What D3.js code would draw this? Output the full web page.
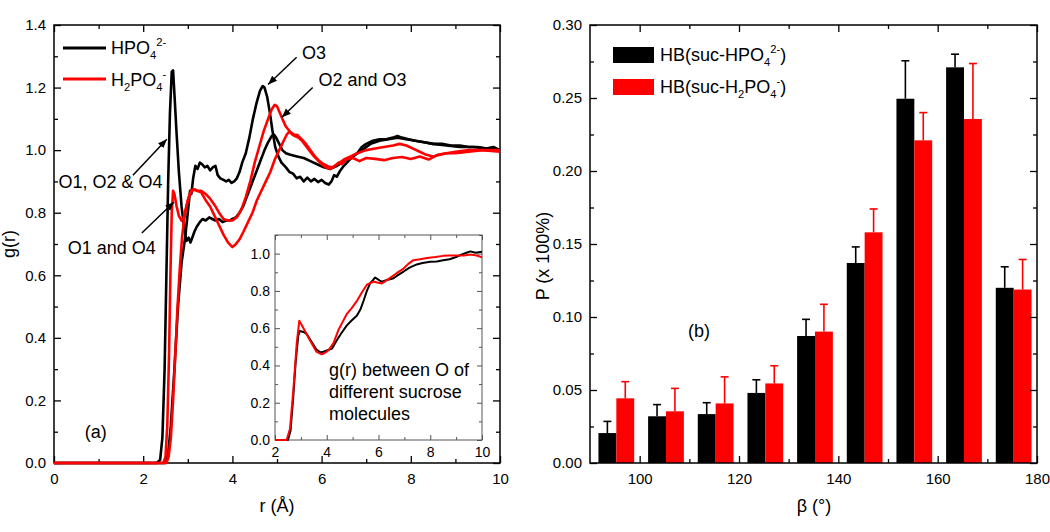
<!DOCTYPE html>
<html>
<head>
<meta charset="utf-8">
<script src="https://cdn.jsdelivr.net/npm/d3@7"></script>
<style>
  body { margin: 0; background: #fff; }
  svg { font-family: "Liberation Sans", Arial, sans-serif; }
</style>
</head>
<body>
<div id="chart"></div>
<script>
// ---- (a) g(r) curves, [r, g] pairs ----
const hpo4First = [[0,0],[2.3,0],[2.38,0.01],[2.43,0.08],[2.48,0.3],[2.52,0.6],[2.56,0.9],[2.6,1.12],[2.64,1.25],[2.67,1.255],[2.7,1.18],[2.75,1.05],[2.8,0.93],[2.86,0.82],[2.92,0.75],[2.97,0.71],[3.02,0.72],[3.06,0.705],[3.1,0.72],[3.15,0.74],[3.2,0.755],[3.27,0.77],[3.33,0.78],[3.4,0.775],[3.48,0.785],[3.55,0.78],[3.62,0.775],[3.7,0.78],[3.78,0.77],[3.86,0.775],[3.94,0.775],[4.0,0.78],[4.08,0.785],[4.16,0.8],[4.24,0.82],[4.32,0.85],[4.4,0.88],[4.48,0.91],[4.56,0.94],[4.64,0.97],[4.72,1.0],[4.8,1.025],[4.88,1.045],[4.93,1.05],[4.98,1.04],[5.05,1.02],[5.12,1.0],[5.2,0.99],[5.3,0.985],[5.45,0.98],[5.6,0.975],[5.75,0.965],[5.9,0.955],[6.05,0.945],[6.2,0.94],[6.35,0.95],[6.5,0.965],[6.7,0.98],[6.9,1.0],[7.1,1.02],[7.3,1.03],[7.5,1.035],[7.7,1.04],[7.9,1.035],[8.1,1.03],[8.3,1.025],[8.5,1.02],[8.8,1.015],[9.1,1.01],[9.4,1.01],[9.7,1.005],[10,1.0]];

const hpo4Second = [[0,0],[2.5,0],[2.56,0.03],[2.62,0.12],[2.7,0.3],[2.78,0.5],[2.86,0.64],[2.94,0.72],[3.0,0.8],[3.05,0.87],[3.08,0.86],[3.12,0.91],[3.17,0.95],[3.22,0.94],[3.27,0.96],[3.32,0.955],[3.38,0.945],[3.44,0.95],[3.5,0.935],[3.56,0.945],[3.62,0.95],[3.67,0.92],[3.73,0.91],[3.8,0.905],[3.86,0.9],[3.92,0.905],[3.98,0.895],[4.04,0.9],[4.1,0.91],[4.16,0.93],[4.22,0.96],[4.3,0.99],[4.38,1.04],[4.46,1.1],[4.54,1.15],[4.62,1.19],[4.68,1.205],[4.72,1.2],[4.78,1.17],[4.84,1.12],[4.9,1.06],[4.96,1.01],[5.03,0.98],[5.1,0.96],[5.2,0.945],[5.28,0.93],[5.36,0.925],[5.44,0.91],[5.52,0.915],[5.6,0.9],[5.68,0.912],[5.76,0.9],[5.84,0.908],[5.92,0.898],[6.0,0.905],[6.08,0.895],[6.16,0.89],[6.22,0.9],[6.28,0.92],[6.34,0.915],[6.42,0.935],[6.5,0.95],[6.6,0.965],[6.7,0.98],[6.8,0.99],[6.9,1.01],[7.0,1.02],[7.15,1.03],[7.3,1.035],[7.45,1.035],[7.6,1.04],[7.7,1.045],[7.8,1.04],[7.95,1.035],[8.1,1.03],[8.3,1.025],[8.5,1.02],[8.7,1.02],[8.9,1.015],[9.1,1.015],[9.3,1.01],[9.5,1.01],[9.7,1.005],[9.85,1.01],[10,1.0]];

const h2po4First = [[0,0],[2.45,0],[2.5,0.02],[2.54,0.12],[2.58,0.35],[2.61,0.6],[2.64,0.8],[2.67,0.87],[2.7,0.86],[2.75,0.82],[2.8,0.79],[2.86,0.775],[2.9,0.78],[2.95,0.81],[3.0,0.84],[3.05,0.86],[3.1,0.87],[3.16,0.875],[3.22,0.87],[3.3,0.87],[3.4,0.86],[3.5,0.845],[3.6,0.825],[3.7,0.8],[3.8,0.78],[3.9,0.775],[4.0,0.775],[4.1,0.785],[4.2,0.81],[4.3,0.85],[4.4,0.9],[4.5,0.96],[4.6,1.01],[4.7,1.06],[4.8,1.1],[4.88,1.13],[4.95,1.145],[5.0,1.14],[5.06,1.12],[5.12,1.1],[5.2,1.075],[5.3,1.058],[5.38,1.05],[5.46,1.048],[5.55,1.035],[5.65,1.02],[5.75,1.0],[5.85,0.98],[5.95,0.965],[6.05,0.955],[6.15,0.948],[6.25,0.945],[6.35,0.955],[6.5,0.97],[6.65,0.98],[6.8,0.99],[7.0,1.0],[7.2,1.005],[7.4,1.01],[7.6,1.015],[7.75,1.02],[7.9,1.015],[8.05,1.005],[8.2,0.995],[8.35,0.985],[8.5,0.98],[8.65,0.985],[8.8,0.99],[9.0,0.995],[9.3,1.0],[9.6,1.0],[10,0.995]];

const h2po4Second = [[0,0],[2.52,0],[2.57,0.02],[2.62,0.08],[2.67,0.2],[2.72,0.35],[2.77,0.5],[2.82,0.62],[2.87,0.72],[2.92,0.78],[2.97,0.82],[3.02,0.85],[3.07,0.87],[3.12,0.875],[3.2,0.87],[3.3,0.865],[3.4,0.84],[3.5,0.82],[3.6,0.79],[3.7,0.76],[3.8,0.73],[3.9,0.705],[4.0,0.69],[4.08,0.7],[4.16,0.715],[4.25,0.74],[4.35,0.77],[4.45,0.8],[4.55,0.84],[4.65,0.87],[4.75,0.9],[4.85,0.93],[4.95,0.97],[5.05,1.0],[5.15,1.03],[5.22,1.05],[5.28,1.06],[5.34,1.05],[5.4,1.045],[5.48,1.04],[5.56,1.03],[5.64,1.015],[5.72,1.0],[5.8,0.985],[5.9,0.97],[6.0,0.955],[6.1,0.945],[6.2,0.94],[6.3,0.95],[6.38,0.96],[6.45,0.955],[6.55,0.97],[6.7,0.975],[6.85,0.965],[7.0,0.975],[7.2,0.972],[7.4,0.968],[7.6,0.975],[7.8,0.978],[8.0,0.972],[8.2,0.98],[8.4,0.97],[8.6,0.985],[8.8,0.99],[9.0,0.99],[9.3,0.995],[9.6,1.0],[10,1.0]];

// inset: O(sucrose)-O(sucrose) g(r)
const insetHPO4 = [[2,0],[2.5,0],[2.6,0.05],[2.7,0.22],[2.8,0.42],[2.9,0.56],[2.96,0.585],[3.1,0.58],[3.22,0.57],[3.4,0.53],[3.6,0.486],[3.75,0.47],[3.87,0.474],[4.0,0.48],[4.2,0.49],[4.39,0.535],[4.55,0.57],[4.77,0.614],[4.95,0.64],[5.16,0.667],[5.3,0.7],[5.42,0.746],[5.55,0.8],[5.68,0.842],[5.8,0.86],[5.87,0.872],[5.95,0.865],[6.05,0.855],[6.13,0.85],[6.3,0.858],[6.45,0.862],[6.58,0.868],[6.75,0.885],[6.97,0.904],[7.2,0.925],[7.48,0.942],[7.7,0.95],[8.0,0.956],[8.25,0.958],[8.5,0.965],[8.75,0.97],[9.0,0.982],[9.2,0.995],[9.4,1.005],[9.55,1.012],[9.75,1.005],[10,1.01]];
const insetH2PO4 = [[2,0],[2.45,0],[2.58,0.06],[2.71,0.27],[2.84,0.52],[2.94,0.64],[3.02,0.62],[3.1,0.6],[3.35,0.535],[3.6,0.474],[3.8,0.46],[3.9,0.465],[4.06,0.48],[4.26,0.52],[4.45,0.59],[4.6,0.63],[4.77,0.675],[4.95,0.705],[5.16,0.745],[5.35,0.79],[5.55,0.833],[5.8,0.85],[5.95,0.845],[6.13,0.84],[6.3,0.855],[6.45,0.87],[6.7,0.895],[6.97,0.92],[7.15,0.945],[7.35,0.965],[7.6,0.97],[7.87,0.977],[8.2,0.982],[8.5,0.988],[8.75,0.99],[9.0,0.99],[9.3,0.99],[9.55,0.995],[9.8,0.99],[10,0.98]];

// ---- (b) H-bond angle distribution ----
const betaBins = [90, 100, 110, 120, 130, 140, 150, 160, 170];
const pHPO4 = [0.0205, 0.032, 0.0335, 0.048, 0.087, 0.137, 0.2495, 0.271, 0.120];
const errHPO4 = [0.008, 0.008, 0.0078, 0.009, 0.0114, 0.011, 0.026, 0.009, 0.0144];
const pH2PO4 = [0.0443, 0.0354, 0.0408, 0.0545, 0.090, 0.158, 0.221, 0.2356, 0.1188];
const errH2PO4 = [0.0114, 0.0157, 0.0182, 0.0121, 0.0187, 0.016, 0.019, 0.038, 0.0206];

const RED = "#ff0000";
const svg = d3.select("#chart").append("svg")
  .attr("width", 1050).attr("height", 532);

// draws inward ticks on all four sides plus the frame
function boxAxes(g, x, y, o) {
  const [x0, x1] = x.range(), [y0, y1] = y.range();
  const style = s => s.call(a => a.select(".domain").remove())
    .call(a => a.selectAll("line").attr("stroke", o.color).attr("stroke-width", o.tw))
    .call(a => a.selectAll("text").attr("font-size", o.fs).attr("fill", "#000"));
  [[o.xMajor, o.major, o.xFmt], [o.xMinor, o.minor, null]].forEach(([vals, len, fmt]) => {
    g.append("g").attr("transform", `translate(0,${y0})`)
      .call(d3.axisBottom(x).tickValues(vals).tickSize(-len).tickPadding(o.xPad).tickFormat(fmt || (() => "")))
      .call(style);
    g.append("g").attr("transform", `translate(0,${y1})`)
      .call(d3.axisTop(x).tickValues(vals).tickSize(-len).tickFormat(() => ""))
      .call(style);
  });
  [[o.yMajor, o.major, o.yFmt], [o.yMinor, o.minor, null]].forEach(([vals, len, fmt]) => {
    g.append("g").attr("transform", `translate(${x0},0)`)
      .call(d3.axisLeft(y).tickValues(vals).tickSize(-len).tickPadding(o.yPad).tickFormat(fmt || (() => "")))
      .call(style);
    g.append("g").attr("transform", `translate(${x1},0)`)
      .call(d3.axisRight(y).tickValues(vals).tickSize(-len).tickFormat(() => ""))
      .call(style);
  });
  g.append("rect").attr("x", x0).attr("y", y1)
    .attr("width", x1 - x0).attr("height", y0 - y1)
    .attr("fill", "none").attr("stroke", o.color).attr("stroke-width", o.fw);
}

// text with sub/superscripts: parts = [[string, "n"|"sub"|"sup"]]
function chemText(g, x, y, size, parts) {
  const t = g.append("text").attr("x", x).attr("y", y).attr("font-size", size);
  let shift = 0;
  parts.forEach(([s, k]) => {
    const target = k === "sub" ? size * 0.3 : k === "sup" ? -size * 0.45 : 0;
    t.append("tspan").attr("dy", target - shift)
      .attr("font-size", k === "n" ? size : size * 0.62).text(s);
    shift = target;
  });
  return t;
}

const range = (a, b, s) => d3.range(a, b + s / 2, s);

// ================= panel (a) =================
const xa = d3.scaleLinear().domain([0, 10]).range([54, 500]);
const ya = d3.scaleLinear().domain([0, 1.4]).range([463, 25]);
const ga = svg.append("g");

boxAxes(ga, xa, ya, {
  xMajor: range(0, 10, 2), xMinor: range(1, 9, 2),
  yMajor: range(0, 1.4, 0.2), yMinor: range(0.1, 1.3, 0.2),
  xFmt: d3.format("d"), yFmt: d3.format(".1f"),
  major: 7, minor: 4, tw: 1.3, fw: 1.5, fs: 15, xPad: 10, yPad: 8, color: "#000"
});

const lineA = d3.line().x(d => xa(d[0])).y(d => ya(d[1]));
[[hpo4First, "#000"], [hpo4Second, "#000"], [h2po4First, RED], [h2po4Second, RED]]
  .forEach(([d, c]) => ga.append("path").attr("d", lineA(d))
    .attr("fill", "none").attr("stroke", c).attr("stroke-width", 2.6)
    .attr("stroke-linejoin", "round"));

// legend (a)
ga.append("line").attr("x1", 63).attr("x2", 106).attr("y1", 48).attr("y2", 48)
  .attr("stroke", "#000").attr("stroke-width", 3);
ga.append("line").attr("x1", 63).attr("x2", 106).attr("y1", 79).attr("y2", 79)
  .attr("stroke", RED).attr("stroke-width", 3);
chemText(ga, 111, 54, 18, [["HPO", "n"], ["4", "sub"], ["2-", "sup"]]);
chemText(ga, 111, 86, 18, [["H", "n"], ["2", "sub"], ["PO", "n"], ["4", "sub"], ["-", "sup"]]);

// annotations with arrows
const defs = svg.append("defs");
defs.append("marker").attr("id", "arr").attr("viewBox", "0 0 10 10")
  .attr("refX", 10).attr("refY", 5).attr("markerWidth", 9).attr("markerHeight", 9)
  .attr("markerUnits", "userSpaceOnUse").attr("orient", "auto")
  .append("path").attr("d", "M0,1 L10,5 L0,9 Z").attr("fill", "#000");

const notes = [
  { text: "O1, O2 & O4", tx: 0.1, ty: 0.878, from: [1.77, 0.92], to: [2.53, 1.035] },
  { text: "O1 and O4", tx: 0.31, ty: 0.668, from: [1.97, 0.735], to: [2.69, 0.834] },
  { text: "O3", tx: 5.56, ty: 1.292, from: [5.44, 1.297], to: [4.8, 1.21] },
  { text: "O2 and O3", tx: 5.93, ty: 1.206, from: [5.8, 1.2], to: [5.11, 1.105] }
];
notes.forEach(n => {
  ga.append("text").attr("x", xa(n.tx)).attr("y", ya(n.ty))
    .attr("font-size", 18).text(n.text);
  ga.append("line")
    .attr("x1", xa(n.from[0])).attr("y1", ya(n.from[1]))
    .attr("x2", xa(n.to[0])).attr("y2", ya(n.to[1]))
    .attr("stroke", "#000").attr("stroke-width", 1.5).attr("marker-end", "url(#arr)");
});
ga.append("text").attr("x", xa(0.69)).attr("y", ya(0.08)).attr("font-size", 18).text("(a)");

// axis titles (a)
ga.append("text").attr("x", 277).attr("y", 512).attr("text-anchor", "middle")
  .attr("font-size", 18).text("r (Å)");
ga.append("text").attr("transform", "translate(15,244) rotate(-90)")
  .attr("text-anchor", "middle").attr("font-size", 18).text("g(r)");

// inset
const xi = d3.scaleLinear().domain([2, 10]).range([275, 482]);
const yi = d3.scaleLinear().domain([0, 1.1]).range([440, 235]);
const gi = svg.append("g");
gi.append("rect").attr("x", 275).attr("y", 235).attr("width", 207).attr("height", 205).attr("fill", "#fff");
boxAxes(gi, xi, yi, {
  xMajor: range(2, 10, 2), xMinor: range(3, 9, 2),
  yMajor: range(0, 1, 0.2), yMinor: range(0.1, 1.1, 0.2),
  xFmt: d3.format("d"), yFmt: d3.format(".1f"),
  major: 5, minor: 3, tw: 1, fw: 1, fs: 14, xPad: 7, yPad: 5, color: "#555"
});
const lineI = d3.line().x(d => xi(d[0])).y(d => yi(d[1]));
[[insetHPO4, "#000"], [insetH2PO4, RED]]
  .forEach(([d, c]) => gi.append("path").attr("d", lineI(d))
    .attr("fill", "none").attr("stroke", c).attr("stroke-width", 2)
    .attr("stroke-linejoin", "round"));
["g(r) between O of", "different sucrose", "molecules"].forEach((s, i) =>
  gi.append("text").attr("x", 329).attr("y", 376 + i * 22).attr("font-size", 18).text(s));

// ================= panel (b) =================
const xb = d3.scaleLinear().domain([90, 180]).range([590, 1037]);
const yb = d3.scaleLinear().domain([0, 0.30]).range([463, 25]);
const gb = svg.append("g");

const bars = betaBins.map((b, i) => ({ b, p1: pHPO4[i], e1: errHPO4[i], p2: pH2PO4[i], e2: errH2PO4[i] }));
const series = [
  { key: "p1", err: "e1", color: "#000", off: 1.7 },
  { key: "p2", err: "e2", color: RED, off: 5.3 }
];
const bw = 3.6;
series.forEach(s => {
  gb.selectAll(null).data(bars).enter().append("rect")
    .attr("x", d => xb(d.b + s.off))
    .attr("y", d => yb(d[s.key]))
    .attr("width", d => xb(d.b + s.off + bw) - xb(d.b + s.off))
    .attr("height", d => yb(0) - yb(d[s.key]))
    .attr("fill", s.color);
  const cx = d => xb(d.b + s.off + bw / 2);
  gb.selectAll(null).data(bars).enter().append("line")
    .attr("x1", cx).attr("x2", cx)
    .attr("y1", d => yb(d[s.key])).attr("y2", d => yb(d[s.key] + d[s.err]))
    .attr("stroke", s.color).attr("stroke-width", 1.6);
  gb.selectAll(null).data(bars).enter().append("line")
    .attr("x1", d => cx(d) - 4).attr("x2", d => cx(d) + 4)
    .attr("y1", d => yb(d[s.key] + d[s.err])).attr("y2", d => yb(d[s.key] + d[s.err]))
    .attr("stroke", s.color).attr("stroke-width", 1.6);
});

boxAxes(gb, xb, yb, {
  xMajor: range(100, 180, 20), xMinor: range(110, 170, 20),
  yMajor: range(0, 0.30, 0.05), yMinor: range(0.025, 0.275, 0.05),
  xFmt: d3.format("d"), yFmt: d3.format(".2f"),
  major: 7, minor: 4, tw: 1.3, fw: 1.5, fs: 15, xPad: 10, yPad: 8, color: "#000"
});

// legend (b)
gb.append("rect").attr("x", 613).attr("y", 47).attr("width", 41).attr("height", 16).attr("fill", "#000");
gb.append("rect").attr("x", 613).attr("y", 79).attr("width", 41).attr("height", 16).attr("fill", RED);
chemText(gb, 660, 61, 18, [["HB(suc-HPO", "n"], ["4", "sub"], ["2-", "sup"], [")", "n"]]);
chemText(gb, 660, 93, 18, [["HB(suc-H", "n"], ["2", "sub"], ["PO", "n"], ["4", "sub"], ["-", "sup"], [")", "n"]]);
gb.append("text").attr("x", 688).attr("y", 337).attr("font-size", 18).text("(b)");

// axis titles (b)
gb.append("text").attr("x", 814).attr("y", 512).attr("text-anchor", "middle")
  .attr("font-size", 18).text("β (°)");
gb.append("text").attr("transform", "translate(549,256) rotate(-90)")
  .attr("text-anchor", "middle").attr("font-size", 18).text("P (x 100%)");
</script>
</body>
</html>
